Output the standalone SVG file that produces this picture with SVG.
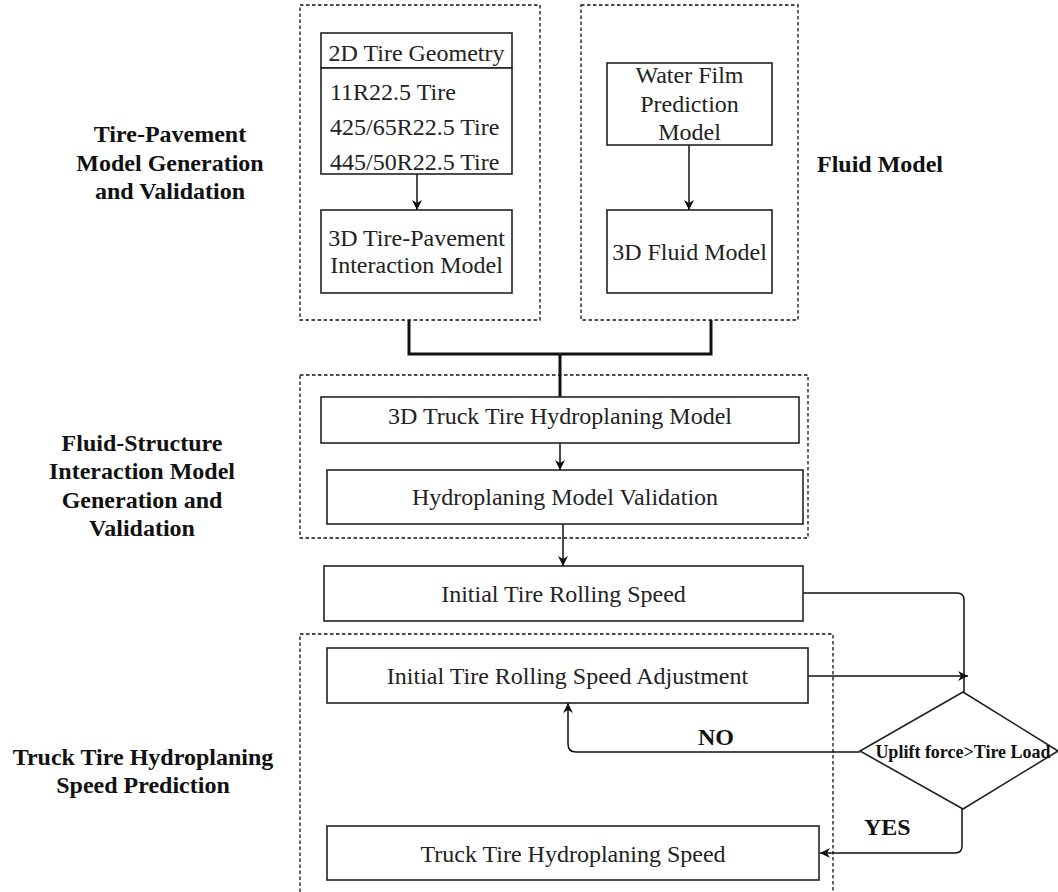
<svg xmlns="http://www.w3.org/2000/svg" width="1058" height="892" viewBox="0 0 1058 892">
<style>
.grp{fill:none;stroke:#111;stroke-width:1.3;stroke-dasharray:3.5 2.5}
.box{fill:#fff;stroke:#222;stroke-width:1.6}
.t{font-family:"Liberation Serif","Times New Roman",serif;font-size:24px;fill:#222}
.c{text-anchor:middle}
.b{font-weight:bold;fill:#111}
.ln{fill:none;stroke:#111;stroke-width:1.5}
.thick{fill:none;stroke:#111;stroke-width:3}
</style>
<defs>
<marker id="ah" viewBox="0 0 10 10" refX="10" refY="5" markerWidth="10" markerHeight="10" markerUnits="userSpaceOnUse" orient="auto">
<path d="M0,0 L10,5 L0,10 L3,5 Z" fill="#111"/>
</marker>
</defs>
<rect width="1058" height="892" fill="#fff"/>

<g id="groups">
<rect class="grp" x="300" y="5" width="240" height="315"/>
<rect class="grp" x="581" y="5" width="217" height="315"/>
<rect class="grp" x="300" y="375" width="508" height="163"/>
<rect class="grp" x="300" y="634" width="533" height="265"/>
</g>

<g id="labels">
<text class="t b c" x="170" y="142">Tire-Pavement</text>
<text class="t b c" x="170" y="171">Model Generation</text>
<text class="t b c" x="170" y="199">and Validation</text>
<text class="t b" x="817" y="172">Fluid Model</text>
<text class="t b c" x="142" y="451">Fluid-Structure</text>
<text class="t b c" x="142" y="479">Interaction Model</text>
<text class="t b c" x="142" y="508">Generation and</text>
<text class="t b c" x="142" y="536">Validation</text>
<text class="t b c" x="143" y="765">Truck Tire Hydroplaning</text>
<text class="t b c" x="143" y="793">Speed Prediction</text>
<text class="t b" x="698" y="745">NO</text>
<text class="t b" x="864" y="835">YES</text>
</g>

<g id="connectors">
<path class="thick" d="M409 320 V354 H711 V320"/>
<path class="thick" d="M560 354 V397"/>
<path class="ln" d="M417 174 V210" marker-end="url(#ah)"/>
<path class="ln" d="M689 145 V210" marker-end="url(#ah)"/>
<path class="ln" d="M560 443 V470" marker-end="url(#ah)"/>
<path class="ln" d="M563 524 V566" marker-end="url(#ah)"/>
<path class="ln" d="M803 593 H957 Q964 593 964 600 V692"/>
<path class="ln" d="M808 676 H968" marker-end="url(#ah)"/>
<path class="ln" d="M860 752 H576 Q568 752 568 744 V703" marker-end="url(#ah)"/>
<path class="ln" d="M962 809 V846 Q962 853 955 853 H820" marker-end="url(#ah)"/>
</g>

<g id="node-2d-geometry">
<rect class="box" x="321" y="33" width="191" height="35"/>
<rect class="box" x="321" y="68" width="191" height="106"/>
<text class="t c" x="416.5" y="61">2D Tire Geometry</text>
<text class="t" x="330" y="100">11R22.5 Tire</text>
<text class="t" x="330" y="135">425/65R22.5 Tire</text>
<text class="t" x="330" y="170">445/50R22.5 Tire</text>
</g>

<g id="node-3d-tire-pavement">
<rect class="box" x="321" y="210" width="191" height="83"/>
<text class="t c" x="416.5" y="246">3D Tire-Pavement</text>
<text class="t c" x="416.5" y="273">Interaction Model</text>
</g>

<g id="node-water-film">
<rect class="box" x="607" y="63" width="165" height="82"/>
<text class="t c" x="689.5" y="83">Water Film</text>
<text class="t c" x="689.5" y="112">Prediction</text>
<text class="t c" x="689.5" y="140">Model</text>
</g>

<g id="node-3d-fluid">
<rect class="box" x="607" y="210" width="165" height="83"/>
<text class="t c" x="689.5" y="260">3D Fluid Model</text>
</g>

<g id="node-3d-truck">
<rect class="box" x="321" y="397" width="478" height="46"/>
<text class="t c" x="560" y="424">3D Truck Tire Hydroplaning Model</text>
</g>

<g id="node-validation">
<rect class="box" x="327" y="470" width="476" height="54"/>
<text class="t c" x="565" y="505">Hydroplaning Model Validation</text>
</g>

<g id="node-initial-speed">
<rect class="box" x="324" y="566" width="479" height="55"/>
<text class="t c" x="563.5" y="602">Initial Tire Rolling Speed</text>
</g>

<g id="node-adjustment">
<rect class="box" x="327" y="648" width="481" height="55"/>
<text class="t c" x="567.5" y="684">Initial Tire Rolling Speed Adjustment</text>
</g>

<g id="node-decision">
<polygon class="box" points="963,692 1058,751 963,809 860,751"/>
<text class="t b c" x="963" y="758" style="font-size:18px">Uplift force&gt;Tire Load</text>
</g>

<g id="node-hydroplaning-speed">
<rect class="box" x="327" y="826" width="492" height="54"/>
<text class="t c" x="573" y="862">Truck Tire Hydroplaning Speed</text>
</g>
</svg>
